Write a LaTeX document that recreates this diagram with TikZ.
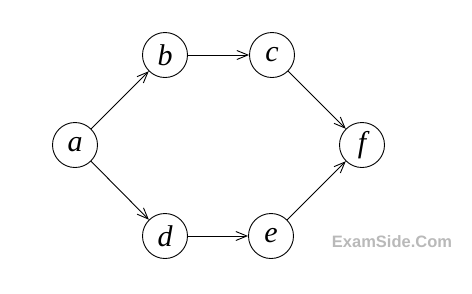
\documentclass[tikz,border=0pt]{standalone}
\usepackage{fontspec}
\setmainfont{Liberation Serif}
\newfontfamily\wmfont{Liberation Sans}
\usetikzlibrary{arrows.meta}
\definecolor{wmgray}{RGB}{185,185,185}
\begin{document}
\begin{tikzpicture}[x=1pt,y=-1pt,
  vtx/.style={circle,draw,line width=0.9pt,minimum size=45pt,inner sep=0pt,font=\fontsize{30}{30}\selectfont\itshape},
  edge/.style={line width=0.9pt,-{Straight Barb[length=11pt,width=9pt,line width=0.9pt]}}]
\useasboundingbox (0,0) rectangle (472,293);
\node[vtx] (a) at (75,145) {a};
\node[vtx] (b) at (165,55) {b};
\node[vtx] (c) at (272,55) {c};
\node[vtx] (d) at (165,236) {d};
\node[vtx] (e) at (271,236) {e};
\node[vtx] (f) at (362,145) {f};
\draw[edge] (a) -- (b);
\draw[edge] (b) -- (c);
\draw[edge] (c) -- (f);
\draw[edge] (a) -- (d);
\draw[edge] (d) -- (e);
\draw[edge] (e) -- (f);
\node[text=wmgray,font=\wmfont\bfseries\fontsize{16.5}{16.5}\selectfont,inner sep=0pt] (wm) at (392,242) {ExamSide.Com};
\end{tikzpicture}
\end{document}
